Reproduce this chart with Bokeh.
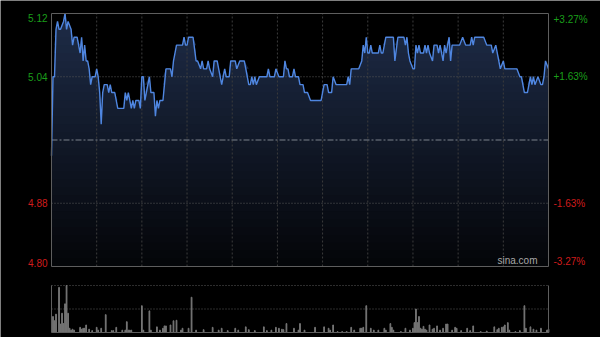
import numpy as np
from bokeh.plotting import figure
from bokeh.models import Range1d
from bokeh.core.properties import value
from bokeh.embed import file_html
from bokeh.resources import INLINE

# ---------------- data ----------------
prev_close = 4.96

price_minutes = [0, 1, 2, 3, 4, 5, 6, 8, 9, 10, 11, 13, 14, 15, 17, 19, 20, 21, 22, 23,
                 24, 25, 26, 27, 29, 30, 31, 32, 33, 34, 35, 37, 38, 39, 40, 42, 44, 48, 49, 50,
                 51, 52, 53, 54, 55, 56, 58, 59, 60, 61, 62, 65, 66, 68, 69, 70, 71, 72, 74, 76,
                 79, 80, 81, 82, 83, 87, 88, 89, 90, 91, 94, 96, 97, 99, 100, 101, 103, 104, 105, 107,
                 108, 110, 111, 113, 115, 116, 118, 119, 122, 123, 125, 128, 131, 132, 133, 134, 135, 136, 138, 143,
                 144, 145, 148, 149, 151, 154, 155, 156, 157, 158, 160, 161, 162, 164, 165, 167, 168, 170, 172, 179,
                 181, 183, 184, 186, 187, 189, 196, 197, 198, 199, 204, 206, 207, 208, 209, 210, 211, 212, 213, 217,
                 218, 219, 220, 222, 227, 228, 230, 234, 235, 236, 237, 238, 240, 241, 242, 243, 244, 245, 247, 248,
                 249, 250, 251, 253, 254, 256, 257, 258, 260, 261, 262, 264, 265, 266, 271, 273, 275, 278, 279, 280,
                 281, 287, 289, 292, 293, 295, 296, 298, 300, 301, 309, 311, 312, 314, 316, 318, 319, 320, 321, 323,
                 325, 326, 327, 328, 330]
price_values = [4.94, 5.04, 5.04, 5.10, 5.11, 5.10, 5.10, 5.11, 5.12, 5.10, 5.11, 5.10, 5.08, 5.09, 5.09, 5.07, 5.09, 5.06, 5.08, 5.06,
                5.06, 5.05, 5.03, 5.04, 5.04, 5.05, 5.04, 5.02, 4.98, 5.02, 5.03, 5.03, 5.02, 5.03, 5.02, 5.02, 5.00, 5.00, 5.02, 5.01,
                5.02, 5.01, 5.00, 5.01, 5.00, 5.01, 5.01, 5.00, 5.04, 5.04, 5.01, 5.04, 5.02, 5.02, 4.99, 5.01, 5.00, 5.01, 5.01, 5.05,
                5.05, 5.04, 5.06, 5.07, 5.08, 5.08, 5.09, 5.08, 5.08, 5.09, 5.09, 5.06, 5.06, 5.05, 5.06, 5.05, 5.05, 5.06, 5.05, 5.04,
                5.06, 5.06, 5.05, 5.03, 5.05, 5.04, 5.04, 5.06, 5.06, 5.05, 5.06, 5.06, 5.03, 5.03, 5.04, 5.03, 5.04, 5.03, 5.04, 5.04,
                5.05, 5.04, 5.04, 5.05, 5.04, 5.04, 5.06, 5.05, 5.05, 5.04, 5.04, 5.05, 5.04, 5.04, 5.03, 5.03, 5.02, 5.02, 5.01, 5.01,
                5.03, 5.03, 5.02, 5.02, 5.04, 5.03, 5.03, 5.04, 5.03, 5.05, 5.05, 5.06, 5.08, 5.07, 5.09, 5.07, 5.07, 5.08, 5.07, 5.07,
                5.08, 5.07, 5.07, 5.09, 5.09, 5.06, 5.09, 5.09, 5.08, 5.09, 5.07, 5.06, 5.05, 5.05, 5.08, 5.07, 5.08, 5.07, 5.07, 5.08,
                5.07, 5.08, 5.07, 5.06, 5.08, 5.08, 5.07, 5.08, 5.06, 5.08, 5.07, 5.09, 5.06, 5.08, 5.08, 5.09, 5.08, 5.08, 5.09, 5.08,
                5.09, 5.09, 5.08, 5.08, 5.07, 5.08, 5.07, 5.05, 5.06, 5.05, 5.05, 5.04, 5.04, 5.02, 5.02, 5.04, 5.03, 5.04, 5.03, 5.04,
                5.03, 5.03, 5.04, 5.06, 5.05]

vol_minutes = [1, 2, 3, 5, 6, 7, 8, 9, 10, 11, 12, 13, 14, 15, 19, 20, 21, 22, 23, 25,
               27, 30, 31, 33, 36, 40, 41, 43, 47, 49, 50, 51, 52, 53, 60, 61, 65, 66, 70, 72,
               74, 75, 76, 79, 81, 83, 86, 87, 91, 93, 96, 101, 107, 111, 113, 117, 122, 124, 129, 131,
               135, 141, 143, 146, 149, 151, 153, 154, 156, 161, 164, 165, 168, 175, 181, 184, 185, 187, 190, 193,
               196, 199, 201, 205, 206, 207, 209, 212, 214, 217, 221, 222, 225, 226, 227, 232, 235, 238, 240, 241,
               242, 243, 244, 245, 246, 247, 248, 249, 251, 253, 254, 256, 258, 260, 262, 263, 266, 268, 269, 272,
               276, 278, 280, 285, 289, 294, 296, 297, 299, 300, 301, 303, 304, 308, 311, 314, 315, 318, 320, 322,
               325, 329, 330]
vol_values = [34, 25, 39, 96, 18, 41, 19, 61, 100, 41, 9, 5, 7, 5, 11, 7, 9, 9, 16, 7,
              4, 11, 5, 9, 38, 4, 4, 11, 5, 5, 23, 5, 5, 5, 57, 5, 46, 5, 12, 5,
              9, 14, 14, 16, 25, 26, 5, 9, 9, 75, 5, 6, 11, 5, 9, 4, 9, 5, 12, 6,
              4, 12, 4, 5, 11, 9, 7, 6, 19, 9, 5, 19, 5, 11, 12, 9, 5, 16, 2, 2,
              2, 11, 5, 9, 9, 11, 57, 9, 5, 5, 9, 5, 19, 11, 5, 2, 9, 5, 9, 21,
              50, 21, 34, 9, 7, 13, 7, 5, 16, 7, 9, 14, 5, 9, 18, 18, 5, 11, 9, 4,
              9, 4, 14, 2, 3, 12, 6, 9, 11, 12, 16, 21, 5, 2, 4, 57, 9, 12, 7, 5,
              9, 5, 7]

left_ticks = [5.12, 5.04, 4.88, 4.80]
left_labels = ["5.12", "5.04", "4.88", "4.80"]
right_labels = ["+3.27%", "+1.63%", "-1.63%", "-3.27%"]
grid_minutes = [30, 60, 90, 120, 150, 180, 210, 240, 270, 300]
hgrid_prices = [5.04, 4.88]
vol_grid = [50]

# ---------------- layout constants (pixels) ----------------
W, H = 600, 337
FL, FR = 51, 548          # panel left / right
PT, PB = 13, 266          # price panel top / bottom
VT, VB = 285, 332         # volume panel top / bottom
T0, T1 = 0, 330           # minutes
Y0, Y1 = 4.80, 5.12       # price axis
V0, V1 = 0, 100           # volume axis
FONT = "Liberation Sans"

kx = (FR - FL) / (T1 - T0)
ky = (PB - PT) / (Y1 - Y0)
kv = (VB - VT) / (V1 - V0)
x_range = Range1d(T0 - FL / kx, T0 + (W - FL) / kx)
y_range = Range1d(Y0 - (H - PB) / ky, Y0 + PB / ky)
v_range = Range1d(V0 - (H - VB) / kv, V0 + VB / kv)

p = figure(width=W, height=H, x_range=x_range, y_range=y_range,
           x_axis_type=None, y_axis_type=None, output_backend="svg", toolbar_location=None,
           min_border=0, background_fill_color="#000000", border_fill_color="#000000",
           outline_line_color=None)
p.extra_y_ranges = {"vol": v_range}
p.xgrid.visible = False
p.ygrid.visible = False

pm = np.array(price_minutes, dtype=float)
pv = np.array(price_values, dtype=float)

# gradient area fill: opaque stacked layers, dark at bottom, slate navy at top
c_bot = np.array([4, 5, 8])
c_top = np.array([30, 44, 72])
n_layers = 32
for k in range(n_layers):
    lo = Y0 + (Y1 - Y0) * k / n_layers
    t = (k + 0.5) / n_layers
    c = np.round(c_bot + (c_top - c_bot) * t).astype(int)
    col = "#%02x%02x%02x" % tuple(c)
    p.varea(x=pm, y1=np.full(len(pm), lo), y2=np.maximum(pv, lo), fill_color=col, fill_alpha=1.0)

# grid lines (price panel), over the fill, under the line
p.segment(x0=grid_minutes, x1=grid_minutes, y0=[Y0] * len(grid_minutes), y1=[Y1] * len(grid_minutes),
          line_color="#3c3c3c", line_dash="2 2", line_width=1)
p.segment(x0=[T0] * len(hgrid_prices), x1=[T1] * len(hgrid_prices), y0=hgrid_prices, y1=hgrid_prices,
          line_color="#5a5a5a", line_dash="1 2", line_width=1)

# previous close line
p.segment(x0=[T0], x1=[T1], y0=[prev_close], y1=[prev_close],
          line_color="#7c828c", line_dash="6 2 2 2", line_width=1)

# price line
p.line(pm, pv, line_color="#4f86e0", line_width=1.4)

# panel frames
p.quad(left=[T0], right=[T1], bottom=[Y0], top=[Y1], fill_color=None,
       line_color="#5e5e5e", line_width=1)

# tick labels
cols = ["#1a9e1a" if t > prev_close else "#d01c1c" for t in left_ticks]
bases = ["top" if t == max(left_ticks) else ("bottom" if t == min(left_ticks) else "middle")
         for t in left_ticks]
src = dict(y=left_ticks, left=left_labels, right=right_labels, color=cols, base=bases,
           x0=[T0] * len(left_ticks), x1=[T1] * len(left_ticks))
p.text(x="x0", y="y", text="left", source=src, x_offset=-4, text_align="right",
       text_baseline="base", text_color="color", text_font_size="10px", text_font=value(FONT))
p.text(x="x1", y="y", text="right", source=src, x_offset=5, text_align="left",
       text_baseline="base", text_color="color", text_font_size="10px", text_font=value(FONT))

# watermark
p.text(x=[T1], y=[Y0], text=["sina.com"], x_offset=-11, y_offset=-1, text_align="right",
       text_baseline="bottom", text_color="#a8a8a8", text_font_size="10px", text_font=value(FONT))

# ---------------- volume panel ----------------
p.segment(x0=[T0] * len(vol_grid), x1=[T1] * len(vol_grid), y0=vol_grid, y1=vol_grid,
          line_color="#5a5a5a", line_dash="1 2", line_width=1, y_range_name="vol")
p.segment(x0=[T0], x1=[T1], y0=[V1], y1=[V1],
          line_color="#5a5a5a", line_dash="1 2", line_width=1, y_range_name="vol")
p.vbar(x=vol_minutes, top=vol_values, bottom=V0, width=0.5, color="#767676", y_range_name="vol")
p.segment(x0=[T0, T1, T0], x1=[T0, T1, T1], y0=[V0, V0, V0], y1=[V1, V1, V0],
          line_color="#5e5e5e", line_width=1, y_range_name="vol")

open("out.html", "w").write(file_html(p, INLINE))
